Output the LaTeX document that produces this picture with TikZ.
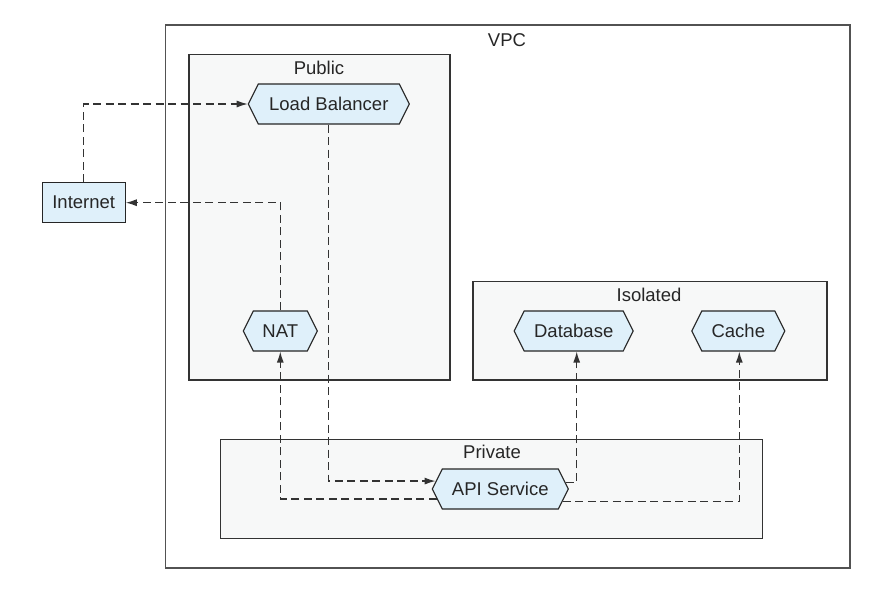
\documentclass[tikz,border=0pt]{standalone}
\usepackage{fontspec}
\setmainfont{Liberation Sans}
\usetikzlibrary{shapes.symbols,arrows.meta}

\definecolor{zonefill}{HTML}{F7F8F8}
\definecolor{hexfill}{HTML}{DFF0FA}
\definecolor{edgegray}{HTML}{333333}

\begin{document}
\begin{tikzpicture}
  [x=1pt,y=-1pt,
   every node/.style={font=\fontsize{18.5}{21}\selectfont, text=black!85},
   zone/.style={draw=black!80, line width=1.3pt, fill=zonefill, inner sep=0pt},
   svc/.style={signal, signal to=west and east, signal pointer angle=127,
     draw=black!85, line width=1.1pt, fill=hexfill, minimum height=40pt, inner sep=0pt},
   flow/.style={draw=edgegray, line width=1.2pt, dash pattern=on 8pt off 4.5pt,
     -{Latex[length=11pt,width=7pt]}}]
  \useasboundingbox (0,0) rectangle (888,592);

  \node[draw=black!68, line width=1.8pt, minimum width=684.5pt, minimum height=542.5pt] (vpc) at (507.75,296.6) {};
  \node[zone, minimum width=261pt, minimum height=325.5pt] (public) at (319.6,217.3) {};
  \node[zone, minimum width=354pt, minimum height=98.3pt] (isolated) at (650,330.9) {};
  \node[zone, minimum width=542.4pt, minimum height=99pt] (private) at (491.5,488.8) {};

  \node (vpclbl) at (507,40.5) {VPC};
  \node (publbl) at (319,67.5) {Public};
  \node (isolbl) at (649,295) {Isolated};
  \node (privlbl) at (492,452) {Private};

  \node[draw=black!85, line width=1.1pt, fill=hexfill, minimum width=83pt, minimum height=40pt, inner sep=0pt] (inet) at (83.7,202.7) {Internet};
  \node[svc, minimum width=161pt] (lb) at (328.8,104) {Load Balancer};
  \node[svc, minimum width=74pt] (nat) at (280.3,331) {NAT};
  \node[svc, minimum width=119pt] (db) at (573.7,331) {Database};
  \node[svc, minimum width=93pt] (cache) at (738.3,331) {Cache};
  \node[svc, minimum width=136pt] (api) at (500.3,489) {API Service};

  \draw[flow] (inet.north) |- (lb.west);
  \draw[flow] (nat.north) |- (inet.east);
  \draw[flow] (lb.south) |- (api.173);
  \draw[flow] (api.189) -| (nat.south);
  \draw[flow] (api.6) -| ([xshift=3pt]db.south);
  \draw[flow] (api.-11) -| ([xshift=1pt]cache.south);

\end{tikzpicture}
\end{document}
